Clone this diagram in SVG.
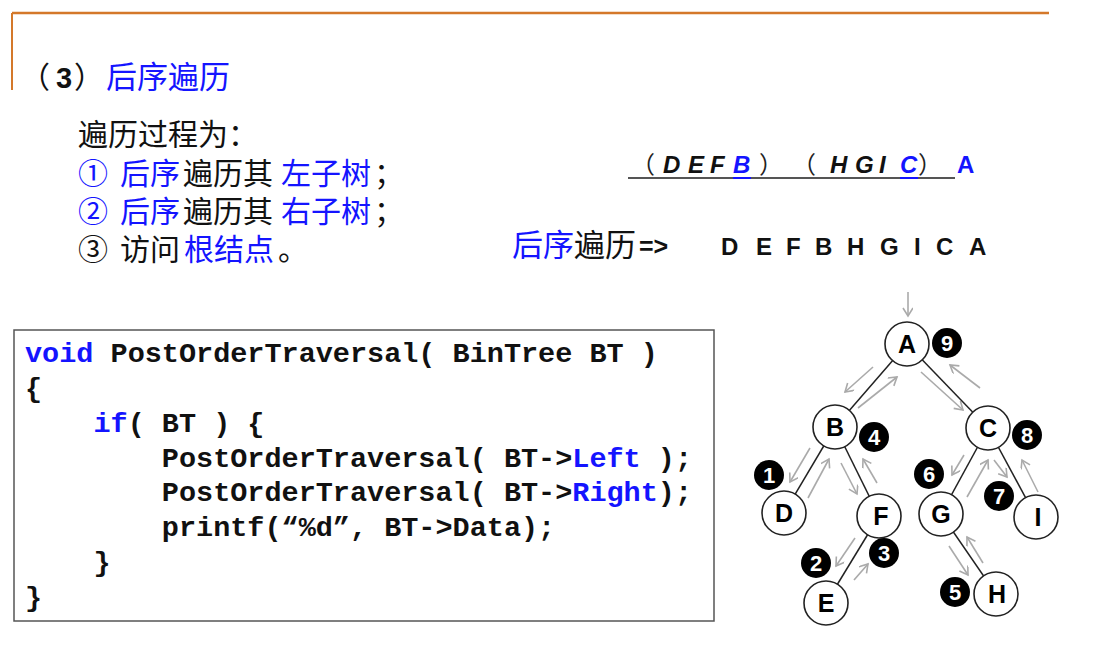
<svg xmlns="http://www.w3.org/2000/svg" width="1104" height="650" viewBox="0 0 1104 650">
<style>
.cjk{font-family:"Noto Sans CJK SC","Liberation Sans",sans-serif;}
.lat{font-family:"Liberation Sans",Arial,sans-serif;}
.b{fill:#1414ff;}
.k{fill:#111;}
.code{font-family:"Liberation Mono","DejaVu Sans Mono",monospace;font-weight:bold;font-size:28.5px;fill:#111;}
.kw{fill:#1414ff;}
.edge{stroke:#222;stroke-width:1.5;fill:none;}
.trav{stroke:#aaa;stroke-width:1.6;fill:none;marker-end:url(#ah);}
.node circle{fill:#fff;stroke:#222;stroke-width:1.6;}
.node text{font-family:"Liberation Sans",Arial,sans-serif;font-weight:bold;font-size:25px;fill:#000;text-anchor:middle;}
.badge circle{fill:#000;}
.badge text{font-family:"Liberation Sans",Arial,sans-serif;font-weight:bold;font-size:22px;fill:#fff;text-anchor:middle;}
</style>
<defs>
<marker id="ah" markerWidth="12" markerHeight="12" refX="9" refY="5" orient="auto" markerUnits="userSpaceOnUse">
<path d="M1,0 L9,5 L1,10" fill="none" stroke="#aaa" stroke-width="1.6"/>
</marker>
</defs>
<rect width="1104" height="650" fill="#fff"/>
<g id="frame">
<line x1="12" y1="13" x2="1049" y2="13" stroke="#d4782a" stroke-width="2.5"/>
<line x1="12" y1="13" x2="12" y2="90" stroke="#d4782a" stroke-width="2"/>
</g>
<g id="title">
<text x="20" y="88" class="cjk k" font-size="30">（</text>
<text x="56" y="88" class="lat k" font-size="29" font-weight="bold">3</text>
<text x="74" y="88" class="cjk k" font-size="30">）</text>
<text x="106" y="88" class="cjk b" font-size="31">后序遍历</text>
</g>
<g id="steps" class="cjk" font-size="30">
<text x="78" y="145" class="k">遍历过程为：</text>
<text y="184"><tspan x="78" class="b">①</tspan><tspan x="120" class="b">后序</tspan><tspan x="183" class="k">遍历其</tspan><tspan x="281" class="b">左子树</tspan><tspan x="374" class="k">；</tspan></text>
<text y="222"><tspan x="78" class="b">②</tspan><tspan x="120" class="b">后序</tspan><tspan x="183" class="k">遍历其</tspan><tspan x="281" class="b">右子树</tspan><tspan x="374" class="k">；</tspan></text>
<text y="260"><tspan x="78" class="k">③</tspan><tspan x="120" class="k">访问</tspan><tspan x="184" class="b">根结点</tspan><tspan x="278" class="k">。</tspan></text>
</g>
<g id="decomp">
<line x1="628" y1="178" x2="955" y2="178" stroke="#555" stroke-width="2"/>
<line x1="733" y1="178" x2="751" y2="178" stroke="#1414ff" stroke-width="2"/>
<line x1="900" y1="178" x2="918" y2="178" stroke="#1414ff" stroke-width="2"/>
<text class="cjk" font-size="24" y="173" fill="#222">
<tspan x="631">（</tspan><tspan x="759">）</tspan><tspan x="792">（</tspan><tspan x="918">）</tspan>
</text>
<text class="lat" font-weight="bold" font-style="italic" font-size="24" y="173" fill="#111">
<tspan x="663">D</tspan><tspan x="688">E</tspan><tspan x="710">F</tspan><tspan x="733" class="b">B</tspan><tspan x="830">H</tspan><tspan x="855">G</tspan><tspan x="879">I</tspan><tspan x="900" class="b">C</tspan>
</text>
<text x="957" y="173" class="lat b" font-weight="bold" font-size="24">A</text>
</g>
<g id="result">
<text class="cjk" font-size="31" y="256"><tspan x="512" class="b">后序</tspan><tspan class="k">遍历</tspan></text>
<text x="639" y="255" class="lat k" font-weight="bold" font-size="25">=&gt;</text>
<text class="lat" font-weight="bold" font-size="24" y="255" fill="#111">
<tspan x="721">D</tspan><tspan x="756">E</tspan><tspan x="786">F</tspan><tspan x="815">B</tspan><tspan x="847">H</tspan><tspan x="880">G</tspan><tspan x="914">I</tspan><tspan x="936">C</tspan><tspan x="969">A</tspan>
</text>
</g>
<g id="code">
<rect x="14" y="330" width="700" height="291" fill="#fff" stroke="#555" stroke-width="1.5"/>
<text class="code" xml:space="preserve" x="25" y="362"><tspan class="kw">void</tspan> PostOrderTraversal( BinTree BT )</text>
<text class="code" xml:space="preserve" x="25" y="397">{</text>
<text class="code" xml:space="preserve" x="25" y="432">    <tspan class="kw">if</tspan>( BT ) {</text>
<text class="code" xml:space="preserve" x="25" y="467">        PostOrderTraversal( BT-&gt;<tspan class="kw">Left</tspan> );</text>
<text class="code" xml:space="preserve" x="25" y="501">        PostOrderTraversal( BT-&gt;<tspan class="kw">Right</tspan>);</text>
<text class="code" xml:space="preserve" x="25" y="536">        printf(“%d”, BT-&gt;Data);</text>
<text class="code" xml:space="preserve" x="25" y="571">    }</text>
<text class="code" xml:space="preserve" x="25" y="606">}</text>
</g>
<g id="edges">
<line class="edge" x1="907" y1="344" x2="835" y2="427"/>
<line class="edge" x1="907" y1="344" x2="988" y2="428"/>
<line class="edge" x1="835" y1="427" x2="784" y2="513"/>
<line class="edge" x1="835" y1="427" x2="879" y2="516"/>
<line class="edge" x1="988" y1="428" x2="941" y2="514"/>
<line class="edge" x1="988" y1="428" x2="1036" y2="517"/>
<line class="edge" x1="879" y1="516" x2="826" y2="603"/>
<line class="edge" x1="941" y1="514" x2="996" y2="594"/>
</g>
<g id="traversal">
<line class="trav" x1="908" y1="292" x2="908" y2="316"/>
<line class="trav" x1="873" y1="367" x2="845" y2="392"/>
<line class="trav" x1="858" y1="408" x2="897" y2="377"/>
<line class="trav" x1="921" y1="372" x2="963" y2="410"/>
<line class="trav" x1="980" y1="388" x2="950" y2="365"/>
<line class="trav" x1="810" y1="448" x2="790" y2="482"/>
<line class="trav" x1="808" y1="498" x2="829" y2="459"/>
<line class="trav" x1="841" y1="463" x2="857" y2="494"/>
<line class="trav" x1="877" y1="483" x2="863" y2="459"/>
<line class="trav" x1="855" y1="538" x2="836" y2="566"/>
<line class="trav" x1="854" y1="580" x2="868" y2="564"/>
<line class="trav" x1="964" y1="455" x2="952" y2="475"/>
<line class="trav" x1="967" y1="497" x2="988" y2="460"/>
<line class="trav" x1="994" y1="460" x2="1007" y2="477"/>
<line class="trav" x1="1038" y1="492" x2="1022" y2="460"/>
<line class="trav" x1="949" y1="546" x2="968" y2="575"/>
<line class="trav" x1="983" y1="563" x2="967" y2="537"/>
</g>
<g id="node-A" class="node"><circle cx="907" cy="344" r="22"/><text x="907" y="353">A</text></g>
<g id="node-B" class="node"><circle cx="835" cy="427" r="22"/><text x="835" y="436">B</text></g>
<g id="node-C" class="node"><circle cx="988" cy="428" r="22"/><text x="988" y="437">C</text></g>
<g id="node-D" class="node"><circle cx="784" cy="513" r="22"/><text x="784" y="522">D</text></g>
<g id="node-F" class="node"><circle cx="879" cy="516" r="22"/><text x="881" y="525">F</text></g>
<g id="node-G" class="node"><circle cx="941" cy="514" r="22"/><text x="941" y="523">G</text></g>
<g id="node-I" class="node"><circle cx="1036" cy="517" r="22"/><text x="1038" y="526">I</text></g>
<g id="node-E" class="node"><circle cx="826" cy="603" r="22"/><text x="826" y="612">E</text></g>
<g id="node-H" class="node"><circle cx="996" cy="594" r="22"/><text x="997" y="603">H</text></g>
<g id="badge-9" class="badge"><circle cx="947" cy="343" r="15"/><text x="947" y="351">9</text></g>
<g id="badge-4" class="badge"><circle cx="874" cy="437" r="15"/><text x="874" y="445">4</text></g>
<g id="badge-8" class="badge"><circle cx="1027" cy="435" r="15"/><text x="1027" y="443">8</text></g>
<g id="badge-1" class="badge"><circle cx="769" cy="475" r="15"/><text x="769" y="483">1</text></g>
<g id="badge-6" class="badge"><circle cx="929" cy="474" r="15"/><text x="929" y="482">6</text></g>
<g id="badge-7" class="badge"><circle cx="999" cy="496" r="15"/><text x="999" y="504">7</text></g>
<g id="badge-2" class="badge"><circle cx="816" cy="563" r="15"/><text x="816" y="571">2</text></g>
<g id="badge-3" class="badge"><circle cx="884" cy="553" r="15"/><text x="884" y="561">3</text></g>
<g id="badge-5" class="badge"><circle cx="955" cy="592" r="15"/><text x="955" y="600">5</text></g>
</svg>
